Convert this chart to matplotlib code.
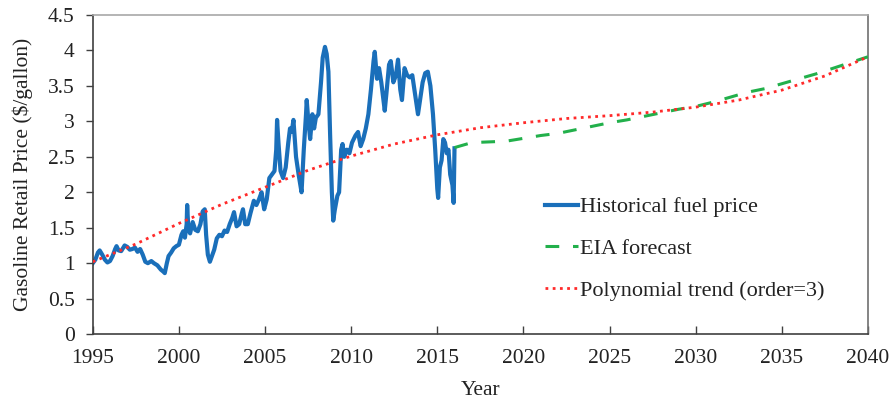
import matplotlib
matplotlib.use("Agg")
import matplotlib.pyplot as plt

plt.rcParams['font.family'] = ['Liberation Serif', 'DejaVu Serif']

# historical retail price (decimal year, $/gallon)
hist_year = [1995.00, 1995.15, 1995.30, 1995.40, 1995.55, 1995.70, 1995.85,
             1996.00, 1996.15, 1996.30, 1996.38, 1996.50, 1996.65, 1996.85,
             1997.00, 1997.15, 1997.30, 1997.45, 1997.60, 1997.75, 1997.90,
             1998.05, 1998.20, 1998.40, 1998.55, 1998.75, 1998.95,
             1999.10, 1999.18, 1999.30, 1999.40, 1999.55, 1999.70, 1999.85,
             2000.00, 2000.15, 2000.25, 2000.35, 2000.45, 2000.48, 2000.55,
             2000.65, 2000.80, 2000.95,
             2001.10, 2001.25, 2001.38, 2001.50, 2001.58, 2001.68, 2001.80,
             2001.95, 2002.05, 2002.20, 2002.35, 2002.50, 2002.65, 2002.80,
             2002.95, 2003.10, 2003.20, 2003.35, 2003.50, 2003.65, 2003.72,
             2003.85, 2004.00, 2004.15, 2004.35, 2004.50, 2004.65, 2004.80,
             2004.95, 2005.10, 2005.25, 2005.40, 2005.55, 2005.65, 2005.70,
             2005.78, 2005.90, 2006.05, 2006.20, 2006.35, 2006.45, 2006.55,
             2006.65, 2006.80, 2006.95, 2007.05, 2007.12, 2007.25, 2007.38,
             2007.42, 2007.50, 2007.62, 2007.75, 2007.85, 2007.95,
             2008.10, 2008.25, 2008.35, 2008.48, 2008.58, 2008.68, 2008.78,
             2008.88, 2008.96, 2009.05, 2009.20, 2009.30, 2009.42, 2009.50,
             2009.60, 2009.75, 2009.90, 2010.05, 2010.25, 2010.40, 2010.55,
             2010.70, 2010.85, 2011.00, 2011.15, 2011.30, 2011.37, 2011.50,
             2011.62, 2011.75, 2011.95, 2012.05, 2012.20, 2012.30, 2012.45,
             2012.60, 2012.72, 2012.85, 2012.95, 2013.10, 2013.25, 2013.40,
             2013.55, 2013.70, 2013.88, 2014.00, 2014.15, 2014.30, 2014.45,
             2014.60, 2014.75, 2014.88, 2015.00, 2015.05, 2015.15, 2015.25,
             2015.35, 2015.45, 2015.55, 2015.65, 2015.75, 2015.88, 2015.95,
             2016.00]
hist_price = [1.00, 1.05, 1.15, 1.18, 1.12, 1.05, 1.01,
              1.03, 1.10, 1.20, 1.24, 1.18, 1.17, 1.25,
              1.23, 1.19, 1.20, 1.22, 1.16, 1.20, 1.12,
              1.02, 1.00, 1.03, 1.00, 0.97, 0.91,
              0.88, 0.86, 1.00, 1.10, 1.15, 1.21, 1.24,
              1.26, 1.40, 1.45, 1.36, 1.55, 1.82, 1.48,
              1.42, 1.58, 1.47,
              1.45, 1.55, 1.73, 1.76, 1.40, 1.12, 1.02,
              1.12, 1.19, 1.35, 1.40, 1.38, 1.46, 1.44,
              1.55, 1.64, 1.72, 1.52, 1.55, 1.70, 1.76,
              1.55, 1.55, 1.70, 1.88, 1.82, 1.90, 2.00,
              1.76, 1.90, 2.20, 2.25, 2.30, 2.60, 3.02,
              2.70, 2.30, 2.20, 2.35, 2.70, 2.90, 2.85,
              3.02, 2.50, 2.25, 2.10, 2.00, 2.60, 3.10,
              3.30, 3.05, 2.75, 3.10, 2.90, 3.05,
              3.10, 3.55, 3.90, 4.05, 3.95, 3.70, 2.80,
              2.00, 1.60, 1.75, 1.95, 2.00, 2.60, 2.68,
              2.50, 2.60, 2.55, 2.70, 2.80, 2.85, 2.65,
              2.75, 2.90, 3.10, 3.45, 3.85, 3.98, 3.60,
              3.75, 3.55, 3.15, 3.40, 3.80, 3.85, 3.55,
              3.65, 3.87, 3.45, 3.30, 3.75, 3.65, 3.62,
              3.65, 3.40, 3.10, 3.30, 3.55, 3.68, 3.70,
              3.50, 3.10, 2.60, 2.05, 1.92, 2.35, 2.45,
              2.75, 2.70, 2.55, 2.60, 2.25, 2.10, 1.85,
              2.62]

# EIA forecast, yearly
eia_year = list(range(2016, 2041))
eia_price = [2.63, 2.70, 2.71, 2.72, 2.76, 2.80, 2.83, 2.88, 2.93, 2.98,
             3.02, 3.07, 3.12, 3.17, 3.21, 3.27, 3.34, 3.41, 3.46, 3.53,
             3.60, 3.67, 3.75, 3.83, 3.91]

# polynomial trend line
trend_year = [1995, 1997.5, 2000, 2002.5, 2005, 2007.5, 2010, 2012.5, 2015,
              2017.5, 2020, 2022.5, 2025, 2027.5, 2030, 2032.5, 2035, 2037.5,
              2040]
trend_price = [1.02, 1.27, 1.56, 1.83, 2.07, 2.31, 2.51, 2.68, 2.81,
               2.91, 2.98, 3.04, 3.08, 3.13, 3.20, 3.30, 3.44, 3.64, 3.91]

fig = plt.figure(figsize=(8.92, 4.04), dpi=100)
ax = fig.add_axes([0.104, 0.173, 0.869, 0.790])

ax.plot(hist_year, hist_price, color='#1a6fba', lw=3.0,
        label='Historical fuel price', zorder=2)
ax.plot(eia_year, eia_price, color='#22b04b', lw=2.2, dashes=(4.5, 4.5),
        label='EIA forecast', zorder=3)
ax.plot(trend_year, trend_price, color='#ff2a2a', lw=2.0, dashes=(1, 1.6),
        label='Polynomial trend (order=3)', zorder=4)

ax.set_xlim(1995, 2040)
ax.set_ylim(0, 4.5)
ax.set_xticks(range(1995, 2041, 5))
ax.set_yticks([0, 0.5, 1, 1.5, 2, 2.5, 3, 3.5, 4, 4.5])
ax.set_yticklabels(['0', '0.5', '1', '1.5', '2', '2.5', '3', '3.5', '4', '4.5'])

ax.tick_params(axis='x', direction='in', length=6, width=1, colors='#404040',
               labelsize=15.5, labelcolor='#222222', pad=11)
ax.tick_params(axis='y', direction='out', length=5, width=1, colors='#404040',
               labelsize=15.5, labelcolor='#222222', pad=8)

ax.spines['left'].set_color('#404040')
ax.spines['bottom'].set_color('#404040')
ax.spines['right'].set_color('#707070')
ax.spines['top'].set_color('#a8a8a8')
for s in ax.spines.values():
    s.set_linewidth(1.2)

ax.set_xlabel('Year', fontsize=15.5, color='#222222', labelpad=9)
ax.set_ylabel('Gasoline Retail Price ($/gallon)', fontsize=15.5,
              color='#222222', labelpad=11)

leg = ax.legend(loc='upper left', bbox_to_anchor=(0.583, 0.43),
                frameon=False, fontsize=16, handlelength=1.5,
                handletextpad=0.1, labelspacing=0.95, borderpad=0,
                borderaxespad=0)
for t in leg.get_texts():
    t.set_color('#222222')

fig.savefig('out.png', dpi=100)
